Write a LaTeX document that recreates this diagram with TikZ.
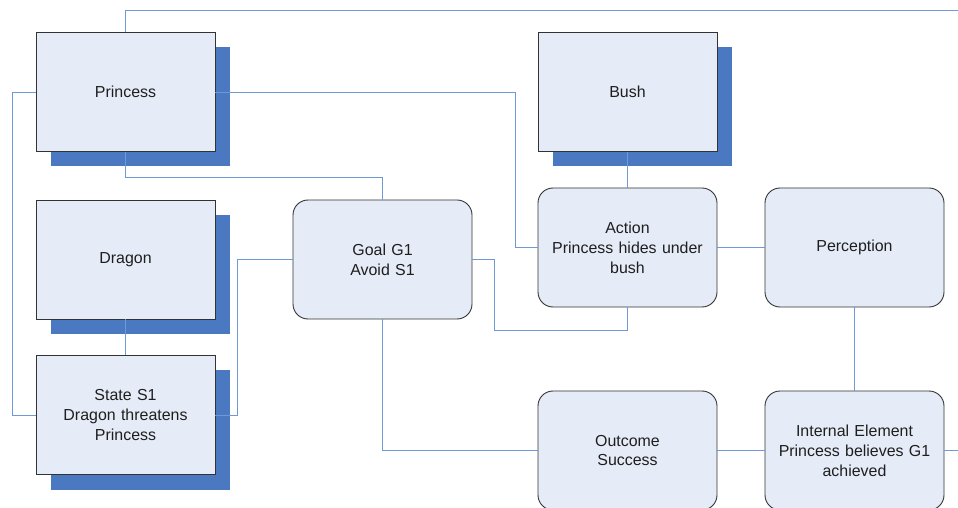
\documentclass[tikz,border=0pt]{standalone}
\usepackage{fontspec}
\setmainfont{Liberation Sans}
\usetikzlibrary{shadows}
\definecolor{boxfill}{HTML}{E6ECF7}
\definecolor{boxline}{HTML}{333333}
\definecolor{shadowblue}{HTML}{4A78C1}
\definecolor{linkblue}{HTML}{6F98D6}
\definecolor{textgray}{HTML}{1E1E1E}
\begin{document}
\begin{tikzpicture}[x=1bp,y=-1bp,
  base/.style={draw=boxline, line width=0.9bp, fill=boxfill, text=textgray,
    minimum width=179bp, minimum height=119bp, inner sep=2bp, align=center,
    text width=170bp, font=\fontsize{16}{20}\selectfont},
  entity/.style={base, drop shadow={shadow xshift=15bp, shadow yshift=-15bp,
    fill=shadowblue, opacity=1}},
  event/.style={base, rounded corners=15bp},
  link/.style={draw=linkblue, line width=0.9bp}]
\useasboundingbox (0,0) rectangle (958,508);
\clip (0,0) rectangle (958,508);

% entities with drop shadows
\node[entity] (princess) at (125.5,92) {Princess};
\node[entity] (dragon) at (125.5,259.5) {Dragon};
\node[entity] (state) at (125.5,415) {State S1\\Dragon threatens\\Princess};
\node[entity] (bush) at (627.5,92) {Bush};

% rounded event boxes
\node[event] (goal) at (382.5,259.5) {Goal G1\\Avoid S1};
\node[event] (action) at (627.5,247.5) {Action\\Princess hides under\\bush};
\node[event] (perception) at (854.5,247.5) {Perception};
\node[event] (outcome) at (627.5,450.5) {Outcome\\Success};
\node[event] (internal) at (854.5,450.5) {Internal Element\\Princess believes G1\\achieved};

% free ends running off the right side
\coordinate (topend) at (962,10);
\coordinate (rightend) at (962,450.5);

% connectors
\draw[link] (princess.north) |- (topend);
\draw[link] (princess.west) -- ++(-23,0) |- (state.west);
\draw[link] (princess.east) -| ([xshift=-22bp]action.west) -- (action.west);
\draw[link] (princess.south) |- ([yshift=22bp]goal.north) -- (goal.north);
\draw[link] (dragon.south) -- (state.north);
\draw[link] (state.east) -- ++(22,0) |- (goal.west);
\draw[link] (goal.east) -- ++(22,0) |- ([yshift=-23bp]action.south) -- (action.south);
\draw[link] (bush.south) -- (action.north);
\draw[link] (action.east) -- (perception.west);
\draw[link] (perception.south) -- (internal.north);
\draw[link] (goal.south) |- (outcome.west);
\draw[link] (outcome.east) -- (internal.west);
\draw[link] (internal.east) -- (rightend);
\end{tikzpicture}
\end{document}
